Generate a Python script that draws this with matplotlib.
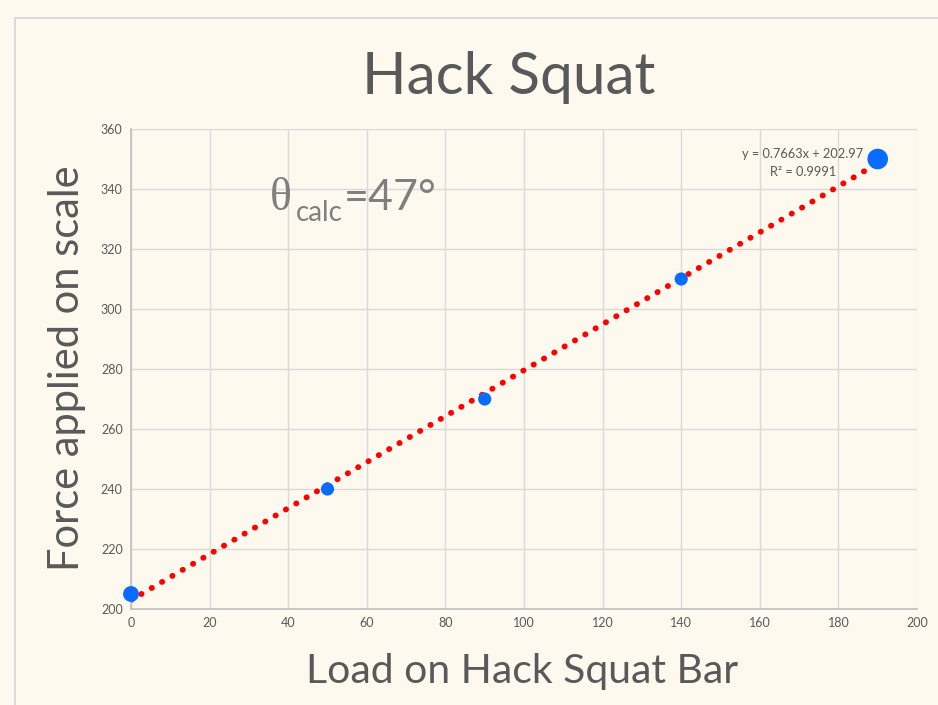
import matplotlib
matplotlib.use("Agg")
import matplotlib.pyplot as plt
import numpy as np
from matplotlib.patches import Rectangle

load = [0, 50, 90, 140, 190]
force = [205, 240, 270, 310, 350]
marker_sizes = [130, 90, 90, 90, 220]
x_ticks = list(range(0, 201, 20))
y_ticks = list(range(200, 361, 20))
title = "Hack Squat"
xlabel = "Load on Hack Squat Bar"
ylabel = "Force applied on scale"

plt.rcParams['font.family'] = ['Lato', 'DejaVu Sans']
bg = '#FEF9EE'
fig = plt.figure(figsize=(9.38, 7.05), dpi=100, facecolor=bg)
fig.patches.append(Rectangle((15/938, -0.05), 1, 1.05 - 18/705, transform=fig.transFigure,
                             fill=False, edgecolor='#D4D4D4', linewidth=1.2))
ax = fig.add_axes([131/938, 1 - 609/705, 786/938, 480/705])
ax.set_facecolor(bg)

ax.set_xlim(0, 200)
ax.set_ylim(200, 360)
ax.set_xticks(x_ticks)
ax.set_yticks(y_ticks)
ax.grid(True, color='#D9D9D9', linewidth=1)
ax.set_axisbelow(True)
for s in ['top', 'right']:
    ax.spines[s].set_visible(False)
for s in ['left', 'bottom']:
    ax.spines[s].set_color('#BFBFBF')
    ax.spines[s].set_linewidth(1.2)
ax.tick_params(length=0, labelsize=9, colors='#595959', pad=6)

# trendline
slope, intercept = np.polyfit(load, force, 1)
xs = np.array([min(load), max(load)])
ax.plot(xs, slope * xs + intercept, color='#FF0000', linewidth=4.2,
        linestyle=(0, (0.05, 2.0)), dash_capstyle='round', zorder=2)

ax.scatter(load, force, s=marker_sizes, color='#0A6CFF', zorder=3, linewidths=0,
           clip_on=False)

yhat = slope * np.array(load) + intercept
r2 = 1 - np.sum((np.array(force) - yhat) ** 2) / np.sum((np.array(force) - np.mean(force)) ** 2)
fig.text(863/938, 1 - 154/705, f"y = {slope:.4f}x + {intercept:.2f}",
         ha='right', va='center', fontsize=9.2, color='#595959')
fig.text(836/938, 1 - 172/705, f"R\u00b2 = {r2:.4f}",
         ha='right', va='center', fontsize=9.2, color='#595959')

tc = '#7F7F7F'
fig.text(270/938, 1 - 210/705, "\u03b8", fontsize=33, color=tc, ha='left', va='baseline',
         fontfamily='Liberation Serif')
fig.text(296/938, 1 - 221/705, "calc", fontsize=20, color=tc, ha='left', va='baseline')
fig.text(344/938, 1 - 210/705, "=47°", fontsize=31, color=tc, ha='left', va='baseline')

fig.text(0.542, 1 - 78/705, title, fontsize=42, color='#595959', ha='center', va='center')
fig.text(0.557, 1 - 672/705, xlabel, fontsize=29.5, color='#595959', ha='center', va='center')
fig.text(67/938, 1 - 368/705, ylabel, fontsize=30, color='#595959', ha='center', va='center',
         rotation=90)

fig.savefig("out.png", dpi=100, facecolor=bg)
